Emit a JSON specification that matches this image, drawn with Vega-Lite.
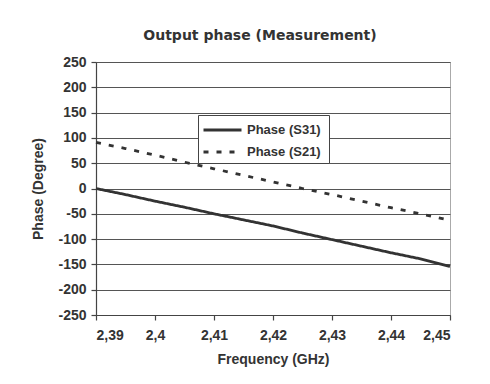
{
  "$schema": "https://vega.github.io/schema/vega-lite/v6.json",
  "autosize": "none",
  "width": 354,
  "height": 253,
  "padding": {"left": 96, "top": 62, "right": 40, "bottom": 69},
  "background": "#ffffff",
  "title": {"text": "Output phase (Measurement)", "fontSize": 14, "font": "DejaVu Sans", "fontWeight": "bold", "color": "#333333", "offset": 12, "dx": -13},
  "config": {
    "locale": {"number": {"decimal": ",", "thousands": ".", "grouping": [3], "currency": ["", ""], "minus": "-"}},
    "font": "Liberation Sans",
    "view": {"stroke": "#555555", "strokeDash": [1, 1], "strokeWidth": 1},
    "axis": {"labelFont": "Liberation Sans", "labelFontWeight": "bold", "labelFontSize": 14, "labelColor": "#333333", "titleFont": "Liberation Sans", "titleFontWeight": "bold", "titleFontSize": 14, "titleColor": "#333333", "domainColor": "#444444", "tickColor": "#444444", "gridColor": "#555555", "gridOpacity": 1, "domainWidth": 1.2, "tickWidth": 1.2}
  },
  "data": {"values": [
    {"f": 2.39, "v": 0, "s": "Phase (S31)"},
    {"f": 2.395, "v": -12, "s": "Phase (S31)"},
    {"f": 2.40, "v": -25, "s": "Phase (S31)"},
    {"f": 2.405, "v": -37, "s": "Phase (S31)"},
    {"f": 2.41, "v": -50, "s": "Phase (S31)"},
    {"f": 2.415, "v": -62, "s": "Phase (S31)"},
    {"f": 2.42, "v": -74, "s": "Phase (S31)"},
    {"f": 2.425, "v": -88, "s": "Phase (S31)"},
    {"f": 2.43, "v": -101, "s": "Phase (S31)"},
    {"f": 2.435, "v": -114, "s": "Phase (S31)"},
    {"f": 2.44, "v": -127, "s": "Phase (S31)"},
    {"f": 2.445, "v": -139, "s": "Phase (S31)"},
    {"f": 2.45, "v": -154, "s": "Phase (S31)"},
    {"f": 2.39, "v": 91, "s": "Phase  (S21)"},
    {"f": 2.395, "v": 79, "s": "Phase  (S21)"},
    {"f": 2.40, "v": 66, "s": "Phase  (S21)"},
    {"f": 2.405, "v": 52, "s": "Phase  (S21)"},
    {"f": 2.41, "v": 39, "s": "Phase  (S21)"},
    {"f": 2.415, "v": 26, "s": "Phase  (S21)"},
    {"f": 2.42, "v": 13, "s": "Phase  (S21)"},
    {"f": 2.425, "v": 0, "s": "Phase  (S21)"},
    {"f": 2.43, "v": -12, "s": "Phase  (S21)"},
    {"f": 2.435, "v": -25, "s": "Phase  (S21)"},
    {"f": 2.44, "v": -38, "s": "Phase  (S21)"},
    {"f": 2.445, "v": -50, "s": "Phase  (S21)"},
    {"f": 2.45, "v": -63, "s": "Phase  (S21)"}
  ]},
  "mark": {"type": "line", "color": "#333333", "strokeWidth": 2.8},
  "encoding": {
    "x": {"field": "f", "type": "quantitative", "scale": {"domain": [2.39, 2.45], "nice": false, "zero": false},
      "axis": {"values": [2.39, 2.4, 2.41, 2.42, 2.43, 2.44, 2.45], "format": ".2~f", "grid": false, "title": "Frequency (GHz)", "tickSize": 5, "labelPadding": 8, "titlePadding": 10}},
    "y": {"field": "v", "type": "quantitative", "scale": {"domain": [-250, 250], "nice": false},
      "axis": {"values": [-250, -200, -150, -100, -50, 0, 50, 100, 150, 200, 250], "grid": true, "title": "Phase (Degree)", "tickSize": 5, "labelPadding": 5, "titlePadding": 12}},
    "strokeDash": {"field": "s", "type": "nominal",
      "scale": {"domain": ["Phase (S31)", "Phase  (S21)"], "range": [[1, 0], [5, 8]]},
      "legend": {"title": null, "orient": "none", "legendX": 102, "legendY": 53, "strokeColor": "#444444", "fillColor": "#ffffff", "padding": 4, "symbolType": "M-1,0H3", "symbolSize": 361, "symbolFillColor": "transparent", "symbolStrokeWidth": 2.8, "symbolStrokeColor": "#333333", "labelFont": "Liberation Sans", "labelFontWeight": "bold", "labelFontSize": 13, "labelColor": "#333333", "rowPadding": 4, "labelOffset": 23}}
  }
}
